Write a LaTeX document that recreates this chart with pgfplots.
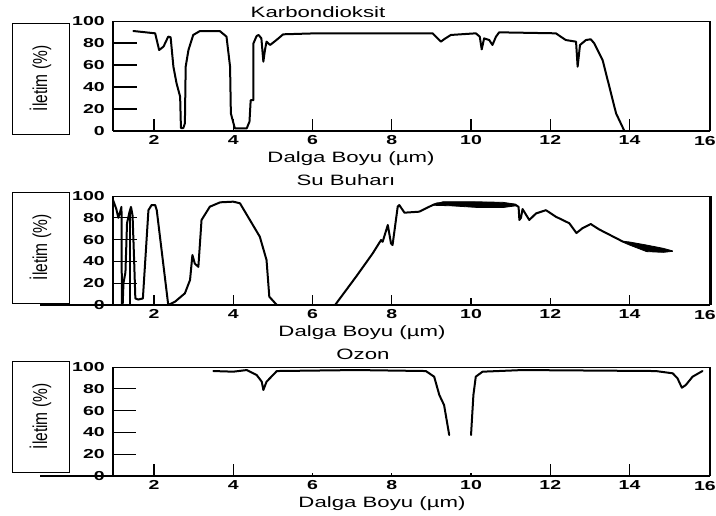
\documentclass[border=0pt]{standalone}
\usepackage{fontspec}
\setmainfont{Liberation Sans}
\usepackage{graphicx}
\usepackage{pgfplots}
\pgfplotsset{compat=1.18}
\usetikzlibrary{calc}

\pgfplotsset{
  panel/.style={scale only axis, width=597pt, anchor=south west,
    xmin=0.966, xmax=16.03, ymin=0, ymax=100, clip=false,
    axis line style={draw=none}, tick style={draw=none},
    xtick={2,4,...,14}, ytick={0,20,...,100},
    /pgf/number format/assume math mode=true,
    ticklabel style={font=\bfseries\fontsize{13}{13}\selectfont, xscale=1.5},
    yticklabel style={xshift=-2pt}, xticklabel style={yshift=-1pt}},
  curve/.style={black, line width=2pt, line join=round, line cap=round, no marks},
}
\newcommand{\lbl}[2]{\node[anchor=base, xscale=1.48, font=\fontsize{15}{18}\selectfont] at (#1) {#2};}
\newcommand{\ylbox}[2]{%
  \draw[line width=0.8pt] (12pt,#1) rectangle (69pt,#2);
  \node at ($(40.5pt,#1)!0.5!(40.5pt,#2)$) {\fontsize{15.5}{18}\selectfont\scalebox{1.3}[1]{\rotatebox{90}{İletim (\%)}}};}
% frame: #1 bottom, #2 top, #3 left end of bottom line, #4 left width, #5 right width
\newcommand{\frm}[5]{%
  \draw[line width=2.4pt] (#3pt,#1pt) -- (710pt,#1pt);
  \draw[line width=#4pt] (113pt,#1pt) -- (113pt,#2pt);
  \draw[line width=0.8pt] (113pt,#2pt) -- (710pt,#2pt);
  \draw[line width=#5pt] (710pt,#1pt) -- (710pt,#2pt);
  \node[anchor=north east, inner sep=0pt, xscale=1.5, font=\bfseries\fontsize{13}{13}\selectfont] at (716pt,#1pt-5pt) {16};}

\begin{document}
\begin{tikzpicture}
\path[use as bounding box] (0,0) rectangle (716pt,515pt);

% ---------- Karbondioksit
\begin{axis}[panel, at={(113pt,384pt)}, height=110pt]
\addplot[curve] coordinates {(1.48,90.9) (2.03,88.8) (2.13,73.6) (2.24,76.7) (2.36,85.8) (2.42,85.2) (2.49,58.5) (2.57,43.3) (2.66,31.2) (2.68,2.7) (2.74,2.7) (2.78,7) (2.80,58.5) (2.87,73.6) (2.99,87.3) (3.16,90.9) (3.66,90.9) (3.83,85.8) (3.92,58.5) (3.94,16) (4.04,2.4) (4.34,2.4) (4.41,8.5) (4.44,28) (4.51,28) (4.51,79.7) (4.59,86.4) (4.64,87.3) (4.71,84.2) (4.76,63) (4.80,73.6) (4.84,81.2) (4.93,78.2) (5.09,82.7) (5.26,87.9) (6.10,88.8) (9.03,88.8) (9.24,81.2) (9.32,83.4) (9.49,87.3) (10.12,88.8) (10.22,85.8) (10.27,74.2) (10.33,84.2) (10.46,82.7) (10.54,78.2) (10.63,85.8) (10.71,89.7) (12.14,88.8) (12.39,82.7) (12.65,81.2) (12.69,58.5) (12.75,78.2) (12.90,82.7) (13.02,83.4) (13.11,79.7) (13.32,64.5) (13.49,40.3) (13.66,16) (13.87,0)};
\end{axis}
\frm{384}{494}{113}{2}{2.2}
\foreach \y in {406,428,450,472} \draw[line width=1.1pt] (113pt,\y pt) -- ++(24pt,0pt);
\foreach \x in {154.0,233.3,312.5,391.8,471.0,550.3,629.6} \draw[line width=1.1pt] (\x pt,384pt) -- ++(0pt,12pt);
\lbl{318pt,497pt}{Karbondioksit}
\lbl{351pt,352pt}{Dalga Boyu (µm)}
\ylbox{381pt}{492pt}

% ---------- Su Buharı
\begin{axis}[panel, at={(113pt,210pt)}, height=109pt]
\addplot[curve] coordinates {(0.97,96) (1.05,88) (1.10,80) (1.15,86) (1.18,90) (1.19,0) (1.21,0) (1.23,20) (1.28,30) (1.32,75) (1.38,85) (1.42,90) (1.46,82) (1.50,40) (1.53,6) (1.60,5) (1.72,6) (1.86,87) (1.94,91.7) (2.03,91.7) (2.07,87) (2.36,0) (2.53,3) (2.78,10.7) (2.91,23) (2.97,45.9) (3.03,38) (3.12,35) (3.20,78) (3.41,90.2) (3.67,94.2) (4.00,94.8) (4.17,93.3) (4.42,78) (4.67,62.7) (4.84,41.3) (4.91,7.6) (5.10,0)};
\addplot[curve] coordinates {(1.39,0) (1.39,85)};
\addplot[curve] coordinates {(6.57,0) (7.10,26) (7.52,47.4) (7.73,59.6) (7.77,58) (7.90,73.4) (7.98,56.6) (8.02,55) (8.15,90.2) (8.19,91.7) (8.32,84.7) (8.69,85.6) (9.05,92) (9.16,93.3) (10.0,93.5) (11.13,91.7) (11.20,90) (11.22,78) (11.26,80) (11.30,88) (11.47,78) (11.64,84) (11.89,87) (12.14,81) (12.48,75) (12.66,66) (12.81,70.4) (13.02,74.3) (13.23,69.4) (13.84,58)};
\addplot[black, fill=black, line width=0.8pt, no marks] coordinates {(9.05,92) (9.3,94.8) (10.0,94.8) (10.8,94.2) (11.13,92.5) (11.13,91) (10.8,89.4) (10.2,89.4) (9.5,91) (9.05,91.5)} -- cycle;
\addplot[black, fill=black, line width=0.8pt, no marks] coordinates {(13.84,58.5) (14.0,57.8) (14.43,55) (14.85,52) (15.08,49.7) (15.08,49.2) (14.85,48.3) (14.43,49) (14.0,55) (13.84,57.5)} -- cycle;
\end{axis}
\frm{210}{319}{40}{1.2}{3}
\foreach \y in {231.8,253.6,275.4,297.2} \draw[line width=1.1pt] (113pt,\y pt) -- ++(24pt,0pt);
\foreach \x in {154.0,233.3,312.5,391.8,629.6} \draw[line width=1.1pt] (\x pt,210pt) -- ++(0pt,10pt);
\foreach \x in {471.0,550.3} \draw[line width=1.1pt] (\x pt,210pt) -- ++(0pt,7pt);
\lbl{346pt,329pt}{Su Buharı}
\lbl{362pt,178pt}{Dalga Boyu (µm)}
\ylbox{212pt}{323pt}

% ---------- Ozon
\begin{axis}[panel, at={(113pt,39pt)}, height=109pt]
\addplot[curve] coordinates {(3.50,96.3) (4.00,95.7) (4.34,97.2) (4.59,92.7) (4.72,86.5) (4.76,78.9) (4.84,86.5) (5.10,96.3) (7.10,97.2) (8.86,96.3) (9.07,91.1) (9.20,74.3) (9.32,65.1) (9.45,37.6)};
\addplot[curve] coordinates {(10.00,37.6) (10.06,74.3) (10.12,91.1) (10.29,95.7) (11.30,97.2) (14.66,96.3) (15.09,94.2) (15.21,89.6) (15.32,81) (15.42,83.5) (15.59,91.1) (15.84,96.3)};
\end{axis}
\frm{39}{148}{40}{1.8}{1.2}
\foreach \y in {60.8,82.6,104.4,126.2} \draw[line width=1.1pt] (113pt,\y pt) -- ++(23pt,0pt);
\foreach \x in {154.0,233.3,550.3,629.6} \draw[line width=1.1pt] (\x pt,39pt) -- ++(0pt,12pt);
\foreach \x in {312.5,391.8,471.0} \draw[line width=1.1pt] (\x pt,39pt) -- ++(0pt,3pt);
\lbl{363pt,155pt}{Ozon}
\lbl{382pt,8pt}{Dalga Boyu (µm)}
\ylbox{43pt}{154pt}
\end{tikzpicture}
\end{document}
